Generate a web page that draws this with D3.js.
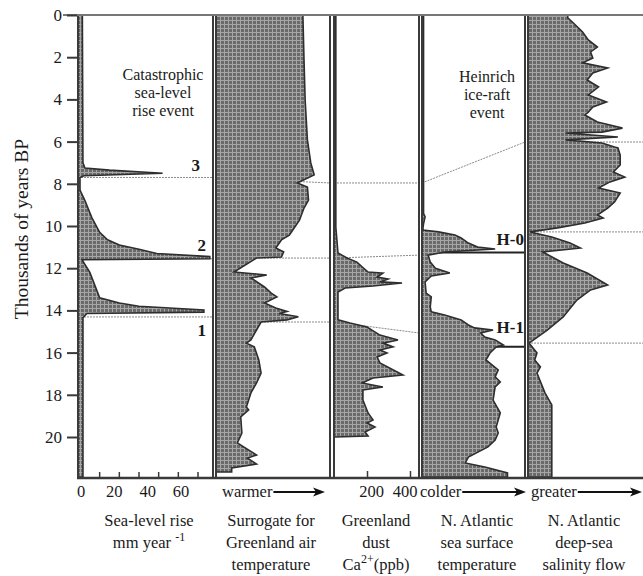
<!DOCTYPE html>
<html lang="en">
<head>
<meta charset="UTF-8">
<title>Catastrophic sea-level rise and North Atlantic records</title>
<script src="https://d3js.org/d3.v7.min.js"></script>
<style>
  body { margin: 0; background: #fff; }
  svg { display: block; font-family: "Liberation Serif", "Times New Roman", serif; }
  text { fill: #1a1a1a; }
</style>
</head>
<body>
<svg id="chart" width="643" height="576"></svg>
<script>
// ages in thousands of years BP
const seaAge  = [0, 7.0, 7.25, 7.35, 7.5, 7.62, 7.7, 8.3, 8.8, 9.6, 10.3, 10.65, 10.9, 11.1, 11.3, 11.45, 11.55, 11.6, 12.2, 13.4, 13.65, 13.8, 13.98, 14.08, 14.15, 14.35, 21.9];
const seaRate = [1.2, 1.5, 2.5, 15, 42, 2, 0, 0, 2.5, 6, 10, 14, 20, 30, 39, 66, 66, 1, 5, 10, 20, 30, 63, 63, 3.5, 1.5, 1.5];

// Greenland air temperature surrogate (relative, warmer to the right)
const gtAge = [0, 2.13, 4.03, 5.92, 7.01, 7.58, 7.96, 8.15, 8.77, 9.15, 9.72, 10.43, 10.66, 11.04, 11.23, 11.47, 11.52, 12.18, 12.32, 12.46, 12.89, 13.18, 13.36, 13.65, 13.89, 14.05, 14.15, 14.3, 14.45, 14.55, 15.4, 15.55, 15.73, 16.35, 16.97, 17.44, 17.91, 18.58, 18.72, 19.05, 19.81, 20.28, 20.85, 21.0, 21.28, 21.47, 21.66];
const gtVal = [76, 77, 78, 80, 83, 86, 71, 80, 81, 77, 73, 64, 57, 52, 59, 57, 35, 15, 44, 30, 42, 48, 53, 42, 52, 62, 55, 72, 62, 39, 30, 26, 33, 37, 39, 35, 30, 26, 28, 21, 22, 18, 35, 27, 35, 13, 13];

// Greenland dust Ca2+ (ppb)
const dustAge = [0, 10.05, 11.28, 11.52, 11.71, 11.94, 12.18, 12.23, 12.42, 12.51, 12.65, 12.7, 12.84, 12.94, 13.13, 14.45, 14.6, 14.79, 15.17, 15.4, 15.55, 15.73, 15.88, 16.02, 16.21, 16.49, 17.06, 17.2, 17.44, 17.63, 17.77, 18.25, 18.86, 19.19, 19.34, 19.53, 19.76, 19.95, 20.0];
const dustVal = [55, 55, 65, 107, 153, 177, 205, 274, 247, 298, 260, 363, 228, 98, 65, 65, 121, 200, 260, 344, 274, 321, 260, 293, 247, 260, 367, 228, 177, 274, 181, 181, 205, 228, 200, 237, 191, 205, 51];

// N. Atlantic sea surface temperature (relative, colder to the right)
const sstAge = [0, 9.4, 9.57, 9.9, 10.05, 10.19, 10.28, 10.43, 10.57, 10.81, 11.0, 11.09, 11.23, 11.38, 11.71, 12.0, 12.23, 12.37, 12.65, 13.18, 13.36, 13.84, 14.07, 14.22, 14.45, 14.69, 14.83, 14.93, 15.07, 15.26, 15.4, 15.64, 15.73, 16.02, 16.35, 16.82, 17.15, 17.39, 17.63, 18.25, 18.86, 19.53, 19.81, 20.14, 20.47, 20.95, 21.23, 21.42, 21.7, 21.9];
const sstVal = [1.5, 1.5, 3, 1.5, 1, 1, 16, 32, 38, 45, 54, 71, 22, 6, 8, 13, 27, 9, 3, 4, 9, 8, 9, 22, 38, 45, 51, 69, 57, 61, 71, 79, 72, 66, 62, 74, 71, 76, 71, 69, 76, 72, 74, 71, 64, 45, 42, 61, 83, 83];

// N. Atlantic deep-sea salinity flow (relative, greater to the right)
const salAge = [0, 0.14, 0.33, 0.81, 1.18, 1.52, 1.75, 2.04, 2.27, 2.51, 2.75, 3.08, 3.41, 3.79, 4.12, 4.36, 4.6, 4.74, 5.07, 5.36, 5.55, 5.59, 5.78, 5.92, 6.07, 6.26, 6.3, 6.64, 7.11, 7.44, 7.68, 7.91, 8.2, 8.44, 8.86, 9.15, 9.48, 9.62, 9.86, 10.09, 10.28, 10.52, 10.81, 11.04, 11.23, 11.75, 12.23, 12.8, 13.03, 13.51, 14.31, 14.93, 15.4, 15.55, 16.02, 16.35, 16.68, 16.97, 17.91, 18.48, 21.9];
const salVal = [34, 34, 38, 47, 52, 60, 54, 56, 47, 69, 56, 51, 61, 52, 68, 56, 52, 49, 60, 82, 64, 32, 78, 32, 64, 75, 78, 80, 80, 74, 84, 71, 61, 80, 75, 69, 60, 65, 49, 25, 1, 20, 36, 45, 12, 30, 51, 69, 54, 42, 30, 16, 4, 0, 7, 5, 10, 7, 14, 20, 20];

// event correlation lines: [age at panel left, age at panel right] for each of the 5 panels
const event3 = [[7.7, 7.7], [7.72, 7.96], [7.96, 7.96], [7.96, 6.02], [6.02, 6.02]];
const event2 = [[11.55, 11.55], [11.52, 11.52], [11.52, 11.38], [11.25, 11.25], [10.28, 10.28]];
const event1 = [[14.31, 14.31], [14.55, 14.55], [14.55, 15.07], [15.72, 15.72], [15.55, 15.55]];

const yTicks = [0, 2, 4, 6, 8, 10, 12, 14, 16, 18, 20];
const seaTicks = [10, 20, 30, 40, 50, 60];
const seaTickLabels = [0, 20, 40, 60];
const dustTicks = [200, 400];

const svg = d3.select("#chart");
const yTop = 15, yBottom = 478;

const y = d3.scaleLinear().domain([0, 20]).range([yTop, 437]);

// panel frames
const panels = [
    {left: 78, right: 213},
    {left: 216, right: 330},
    {left: 334, right: 419},
    {left: 422, right: 525},
    {left: 528, right: 660}
];

const xSea = d3.scaleLinear().domain([0, 60]).range([80, 198]);
const xSeaLabel = d3.scaleLinear().domain([0, 60]).range([81, 181]);
const xGt = d3.scaleLinear().domain([0, 100]).range([217, 330]);
const xDust = d3.scaleLinear().domain([0, 400]).range([324, 410]);
const xDustLabel = d3.scaleLinear().domain([0, 400]).range([338, 405]);
const xSst = d3.scaleLinear().domain([0, 100]).range([422, 525]);
const xSal = d3.scaleLinear().domain([0, 100]).range([529, 643]);

// crosshatch fill like the printed figure
const defs = svg.append("defs");
const pat = defs.append("pattern")
    .attr("id", "hatch")
    .attr("width", 4).attr("height", 4)
    .attr("patternUnits", "userSpaceOnUse");
pat.append("rect").attr("width", 4).attr("height", 4).attr("fill", "#6a6a6a");
pat.append("path").attr("d", "M0,0.5H4M0.5,0V4").attr("stroke", "#a6a6a6").attr("stroke-width", 1);

// event lines (drawn first, the fills cover them)
const events = [event3, event2, event1];
events.forEach(ev => {
    ev.forEach((seg, i) => {
        const p = panels[i];
        const black = (i === 3 && ev !== event3);
        svg.append("line")
            .attr("x1", p.left).attr("x2", Math.min(p.right, 643))
            .attr("y1", y(seg[0])).attr("y2", y(seg[1]))
            .attr("stroke", black ? "#222" : "#8a8a8a")
            .attr("stroke-width", black ? 2 : 1)
            .attr("stroke-dasharray", black ? null : "2,1");
    });
});

// filled profiles
const series = [
    {age: seaAge, val: seaRate, x: xSea, p: panels[0]},
    {age: gtAge, val: gtVal, x: xGt, p: panels[1]},
    {age: dustAge, val: dustVal, x: xDust, p: panels[2]},
    {age: sstAge, val: sstVal, x: xSst, p: panels[3]},
    {age: salAge, val: salVal, x: xSal, p: panels[4]}
];

series.forEach(s => {
    const pts = s.age.map((a, i) => [a, s.val[i]]);
    const area = d3.area()
        .y(d => y(d[0]))
        .x0(s.p.left)
        .x1(d => Math.max(s.p.left, s.x(d[1])));
    svg.append("path")
        .datum(pts)
        .attr("d", area)
        .attr("fill", "url(#hatch)")
        .attr("stroke", "#2e2e2e")
        .attr("stroke-width", 1.6)
        .attr("stroke-linejoin", "miter");
});

// frames
panels.forEach(p => {
    [p.left, p.right].forEach(xx => {
        if (xx > 643) return;
        svg.append("line")
            .attr("x1", xx).attr("x2", xx)
            .attr("y1", yTop).attr("y2", yBottom)
            .attr("stroke", "#3a3a3a").attr("stroke-width", 2);
    });
});
svg.append("line").attr("x1", 63).attr("x2", 643).attr("y1", yTop).attr("y2", yTop)
    .attr("stroke", "#777").attr("stroke-width", 2);
svg.append("line").attr("x1", 77).attr("x2", 643).attr("y1", yBottom).attr("y2", yBottom)
    .attr("stroke", "#3a3a3a").attr("stroke-width", 2.5);

// left axis
const yAxis = svg.append("g")
    .attr("transform", "translate(77,0)")
    .call(d3.axisLeft(y).tickValues(yTicks).tickSize(10).tickPadding(5));
yAxis.select(".domain").remove();
yAxis.selectAll("line").attr("stroke", "#3a3a3a").attr("stroke-width", 2);
yAxis.selectAll("text")
    .attr("font-family", "Liberation Serif, serif")
    .attr("font-size", 17).attr("fill", "#1a1a1a");

svg.append("text")
    .attr("transform", "translate(28,229) rotate(-90)")
    .attr("text-anchor", "middle")
    .attr("font-size", 19.5)
    .text("Thousands of years BP");

// bottom ticks
svg.selectAll(".seatick").data(seaTicks).enter().append("line")
    .attr("x1", d => xSea(d)).attr("x2", d => xSea(d))
    .attr("y1", yBottom).attr("y2", yBottom - 6)
    .attr("stroke", "#3a3a3a").attr("stroke-width", 1.5);
svg.selectAll(".dusttick").data(dustTicks).enter().append("line")
    .attr("x1", d => xDust(d) + 0.5).attr("x2", d => xDust(d) + 0.5)
    .attr("y1", yBottom).attr("y2", yBottom - 7)
    .attr("stroke", "#3a3a3a").attr("stroke-width", 1.5);

const rowTick = 497;
svg.selectAll(".sealab").data(seaTickLabels).enter().append("text")
    .attr("x", d => xSeaLabel(d)).attr("y", rowTick)
    .attr("text-anchor", "middle").attr("font-size", 16.5)
    .text(d => d);
svg.selectAll(".dustlab").data(dustTicks).enter().append("text")
    .attr("x", d => xDustLabel(d)).attr("y", rowTick)
    .attr("text-anchor", "middle").attr("font-size", 16.5)
    .text(d => d);

// direction arrows
const arrows = [
    {label: "warmer", x: 222, end: 325},
    {label: "colder", x: 420, end: 526},
    {label: "greater", x: 531, end: 642}
];
arrows.forEach(a => {
    const t = svg.append("text")
        .attr("x", a.x).attr("y", rowTick)
        .attr("font-size", 16.5).text(a.label);
    const w = t.node().getComputedTextLength();
    const ay = rowTick - 5;
    svg.append("line")
        .attr("x1", a.x + w + 1).attr("x2", a.end - 8)
        .attr("y1", ay).attr("y2", ay)
        .attr("stroke", "#111").attr("stroke-width", 1.8);
    svg.append("path")
        .attr("d", `M${a.end},${ay}L${a.end - 12},${ay - 4.5}L${a.end - 9},${ay}L${a.end - 12},${ay + 4.5}Z`)
        .attr("fill", "#111");
});

// panel titles
const titleRows = [526, 548, 570];
function title(cx, lines) {
    lines.forEach((ln, i) => {
        const t = svg.append("text")
            .attr("x", cx).attr("y", titleRows[i])
            .attr("text-anchor", "middle").attr("font-size", 16.5);
        if (typeof ln === "string") {
            t.text(ln);
        } else {
            ln.forEach(part => {
                const s = t.append("tspan").text(part.t);
                if (part.sup) s.attr("font-size", 12).attr("baseline-shift", "7");
            });
        }
    });
}
title(149, ["Sea-level rise", [{t: "mm year "}, {t: "-1", sup: true}]]);
title(271, ["Surrogate for", "Greenland air", "temperature"]);
title(376, ["Greenland", "dust", [{t: "Ca"}, {t: "2+", sup: true}, {t: "(ppb)"}]]);
title(477, ["N. Atlantic", "sea surface", "temperature"]);
title(584, ["N. Atlantic", "deep-sea", "salinity flow"]);

// annotations inside panels
function block(cx, ys, lines) {
    lines.forEach((ln, i) => {
        svg.append("text")
            .attr("x", cx).attr("y", ys[i])
            .attr("text-anchor", "middle").attr("font-size", 16)
            .text(ln);
    });
}
block(163, [80, 98, 116], ["Catastrophic", "sea-level", "rise event"]);
block(487, [82, 100, 118], ["Heinrich", "ice-raft", "event"]);

const marks = [
    {t: "3", x: 200, age: 7.4},
    {t: "2", x: 206, age: 11.2},
    {t: "1", x: 206, age: 15.2},
    {t: "H-0", x: 524, age: 10.9},
    {t: "H-1", x: 524, age: 15.05}
];
marks.forEach(m => {
    svg.append("text")
        .attr("x", m.x).attr("y", y(m.age))
        .attr("text-anchor", "end")
        .attr("font-size", 17).attr("font-weight", "bold")
        .text(m.t);
});
</script>
</body>
</html>
